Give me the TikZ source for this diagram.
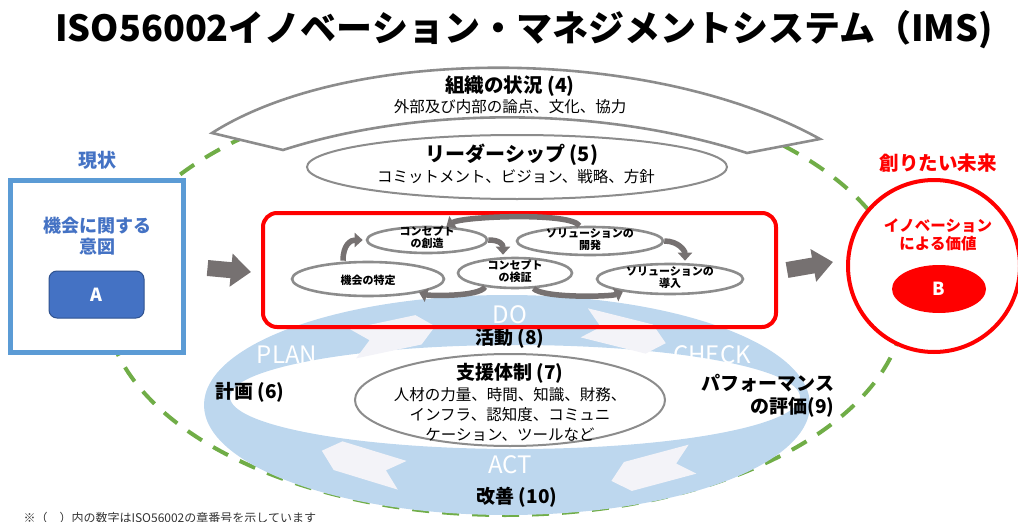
\documentclass[tikz,border=0pt]{standalone}
\usepackage{fontspec}
\setmainfont{Noto Sans CJK JP}
\usetikzlibrary{arrows.meta,shapes.geometric}
\definecolor{gdash}{HTML}{70AD47}
\definecolor{ringblue}{HTML}{BDD7EE}
\definecolor{boxblue}{HTML}{5B9BD5}
\definecolor{txtblue}{HTML}{4472C4}
\definecolor{abord}{HTML}{2F528F}
\definecolor{arrgray}{HTML}{767171}
\definecolor{olgray}{HTML}{8C8C8C}
\definecolor{chevw}{HTML}{F3F3F8}
\definecolor{pred}{HTML}{FF0000}
\newcommand{\fs}[2]{\fontsize{#1}{#2}\selectfont}
\tikzset{
  greendash/.style={draw=gdash,line width=4pt,dash pattern=on 17pt off 13pt},
  chev/.pic={\fill[chevw] (-42,-15) -- (25,-15) -- (42,0) -- (25,15) -- (-42,15) -- (-25,0) -- cycle;},
  ringtxt/.style={text=white,font=\fs{24}{28}},
  blab/.style={font=\bfseries\fs{19}{23},text=black},
  outlineell/.style={ellipse,draw=olgray,line width=2pt,fill=white,inner sep=0pt},
  procell/.style={ellipse,draw=olgray,line width=2.6pt,fill=white,inner sep=0pt},
  proctxt/.style={font=\bfseries\fs{11}{12},align=center,inner sep=0pt},
  procarr/.style={draw=arrgray,line width=5.5pt,-{Triangle[width=14pt,length=8pt]}},
  blockarr/.style={draw=arrgray,line width=16pt,-{Triangle[width=32pt,length=20pt]}},
}
\begin{document}
\begin{tikzpicture}[x=1pt,y=-1pt]
\useasboundingbox (0,0) rectangle (1018,522);
% green dashed ellipse
\draw[greendash] (505,300) ellipse [x radius=400, y radius=215];
% PDCA ring
\fill[ringblue,even odd rule] (507,405) ellipse [x radius=303, y radius=110]
   (515,397) ellipse [x radius=285, y radius=52];
\pic[rotate=12] at (394,335) {chev};
\pic[rotate=-14] at (625,333) {chev};
\pic[rotate=195] at (652,470) {chev};
\pic[rotate=163] at (362,463) {chev};
\node[ringtxt] (plan) at (287,355) {PLAN};
\node[ringtxt] (check) at (712,355) {CHECK};
\node[ringtxt] (do) at (510,315) {DO};
\node[ringtxt] (act) at (510,465) {ACT};
\node[blab] (plan6) at (250,392) {計画 (6)};
\node[blab] (do8) at (510,338) {活動 (8)};
\node[blab,align=right] (chk9) at (768,396) {パフォーマンス\\の評価(9)};
\node[blab] (act10) at (517,497) {改善 (10)};
% support ellipse
\node[outlineell,minimum width=310pt,minimum height=92pt] (sup) at (510,400) {};
\node[align=center,inner sep=0pt,font=\fs{15.5}{20}] (suptxt) at (510,402)
  {{\bfseries\fs{19}{21}支援体制 (7)}\\[1pt]
   人材の力量、時間、知識、財務、\\ インフラ、認知度、コミュニ\\ ケーション、ツールなど};
% context banner
\filldraw[draw=olgray,fill=white,line width=2.6pt,line join=miter]
  (212,133) .. controls (350,45) and (650,45) .. (820,139) -- (747,153)
  .. controls (600,106) and (420,106) .. (283,150) -- cycle;
\node[font=\bfseries\fs{19.5}{22}] (ctx) at (510,86) {組織の状況 (4)};
\node[font=\fs{15.5}{18}] (ctx2) at (510,107) {外部及び内部の論点、文化、協力};
% leadership
\node[outlineell,minimum width=420pt,minimum height=64pt] (lead) at (517,167) {};
\node[font=\bfseries\fs{20}{23}] (lead1) at (512,155) {リーダーシップ (5)};
\node[font=\fs{15.5}{18}] (lead2) at (516,177) {コミットメント、ビジョン、戦略、方針};
% left box
\node[font=\bfseries\fs{19}{22},text=txtblue] (now) at (97,160) {現状};
\node[draw=boxblue,line width=5pt,fill=white,minimum width=173pt,minimum height=172pt,inner sep=0pt] (boxL) at (96.5,266) {};
\node[font=\bfseries\fs{18}{21},text=txtblue,align=center] (intent) at (97,236) {機会に関する\\意図};
\node[draw=abord,line width=1pt,fill=txtblue,rounded corners=8pt,minimum width=95pt,minimum height=47pt,text=white,font=\bfseries\fs{18}{20}] (A) at (96.5,294.5) {A};
% right circle
\node[font=\bfseries\fs{19.5}{22},text=pred] (future) at (938,163) {創りたい未来};
\node[circle,draw=pred,line width=4pt,fill=white,minimum size=172pt,inner sep=0pt] (circB) at (934,266) {};
\node[font=\bfseries\fs{15.5}{18},text=pred,align=center] (val) at (938,235) {イノベーション\\による価値};
\node[ellipse,fill=pred,minimum width=94pt,minimum height=48pt,text=white,font=\bfseries\fs{18}{20}] (B) at (939,289) {B};
% red activity box
\node[draw=pred,line width=4pt,rounded corners=14pt,minimum width=513pt,minimum height=114pt,inner sep=0pt] (redbox) at (519.5,270) {};
\node[procell,minimum width=152pt,minimum height=34pt] (opp) at (368,279) {};
\node[procell,minimum width=120pt,minimum height=26pt] (cre) at (427,240) {};
\node[procell,minimum width=114pt,minimum height=30pt] (vld) at (515,273) {};
\node[procell,minimum width=146pt,minimum height=28pt] (dev) at (590,241) {};
\node[procell,minimum width=146pt,minimum height=30pt] (dep) at (670,279) {};
\node[proctxt] (oppt) at (368,280) {機会の特定};
\node[proctxt] (cret) at (427,237) {コンセプト\\の創造};
\node[proctxt] (vldt) at (515,271) {コンセプト\\の検証};
\node[proctxt] (devt) at (590,240) {ソリューションの\\開発};
\node[proctxt] (dept) at (670,278) {ソリューションの\\導入};
\draw[procarr] ([xshift=-25pt]opp.north) .. controls +(0,-16) and +(-12,0) .. ([xshift=-3pt]cre.west);
\draw[procarr] (cre.east) .. controls +(12,0) and +(0,-10) .. ([xshift=-12pt,yshift=2pt]vld.north);
\draw[procarr] (vld.205) .. controls +(-6,10) and +(10,3) .. (opp.-15);
\draw[procarr] (dev.125) .. controls +(-8,-14) and +(16,-10) .. (cre.35);
\draw[procarr] (vld.-40) .. controls +(10,10) and +(-12,5) .. (dep.195);
\draw[procarr] (dev.east) .. controls +(14,0) and +(0,-10) .. ([xshift=15pt,yshift=2pt]dep.north);
% block arrows
\draw[blockarr] ([xshift=22pt,yshift=-2pt]boxL.east) -- ([xshift=-10pt,yshift=-2pt]redbox.west);
\draw[blockarr] ([xshift=9pt]redbox.east) -- ([xshift=-13pt,yshift=4pt]circB.west);
% title and footnote
\node[font=\bfseries\fs{36}{40}] (title) at (524,30) {ISO56002イノベーション・マネジメントシステム（IMS)};
\node[anchor=west,font=\fs{12}{13},text=black!80] (note) at (20,518) {※（　）内の数字はISO56002の章番号を示しています};
\end{tikzpicture}
\end{document}
